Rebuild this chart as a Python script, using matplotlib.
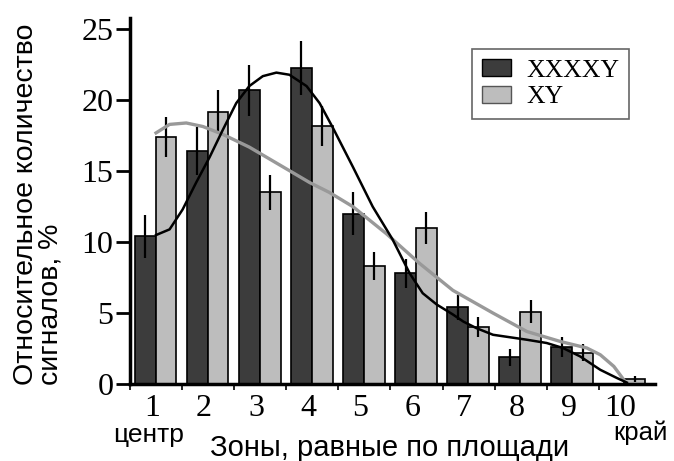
import matplotlib
matplotlib.use('Agg')
import matplotlib.pyplot as plt
import numpy as np
from matplotlib.patches import Patch

# zones 1 (centre) .. 10 (edge)
zones = np.arange(1, 11)
xxxxy = [10.4, 16.4, 20.7, 22.3, 12.0, 7.8, 5.4, 1.9, 2.6, 0.0]
xxxxy_err = [1.5, 1.7, 1.8, 1.9, 1.5, 1.0, 0.9, 0.6, 0.7, 0.0]
xy = [17.4, 19.2, 13.5, 18.2, 8.3, 11.0, 4.0, 5.1, 2.2, 0.35]
xy_err = [1.4, 1.5, 1.2, 1.4, 1.0, 1.1, 0.7, 0.8, 0.6, 0.2]

# smoothed trend lines
xxxxy_curve_x = [1.00, 1.26, 1.51, 1.77, 2.03, 2.28, 2.54, 2.79, 3.05, 3.31, 3.56,
                 3.89, 4.14, 4.39, 4.78, 5.16, 5.54, 5.87, 6.12, 6.39, 6.70, 6.90,
                 7.15, 7.47, 8.12, 8.50, 8.81, 9.14, 9.53, 9.85, 10.04]
xxxxy_curve_y = [10.5, 10.9, 12.3, 14.2, 16.0, 17.9, 19.8, 21.0, 21.7, 21.95, 21.8,
                 21.0, 19.8, 18.1, 15.3, 12.5, 10.2, 7.8, 6.4, 5.6, 4.9, 4.4,
                 3.94, 3.47, 3.12, 2.89, 2.54, 1.95, 1.0, 0.42, 0.1]
xy_curve_x = [1.00, 1.26, 1.58, 1.90, 2.28, 2.79, 3.44, 3.95, 4.33, 4.78, 5.42,
              6.06, 6.70, 7.47, 8.12, 8.76, 9.27, 9.53, 9.79, 9.98]
xy_curve_y = [17.7, 18.3, 18.4, 18.15, 17.6, 16.7, 15.3, 14.2, 13.5, 12.5, 10.6,
              8.5, 6.6, 5.0, 3.7, 3.0, 2.54, 2.06, 1.24, 0.3]

DARK = '#3c3c3c'
LIGHT = '#bdbdbd'
SERIF = 'Liberation Serif'
SANS = 'Liberation Sans'

W, H = 674, 461
fig = plt.figure(figsize=(W / 100, H / 100), dpi=100)
ax = fig.add_axes([130 / W, 1 - 384 / H, (655 - 130) / W, (384 - 18) / H])

ekw = dict(ecolor='black', elinewidth=1.6, capsize=0)
ax.bar(zones - 0.21, xxxxy, 0.4, color=DARK, edgecolor='black', linewidth=1.2,
       yerr=xxxxy_err, error_kw=ekw, zorder=2)
ax.bar(zones + 0.19, xy, 0.4, color=LIGHT, edgecolor='black', linewidth=1.2,
       yerr=xy_err, error_kw=ekw, zorder=2)

ax.plot(xy_curve_x, xy_curve_y, color='#999999', lw=2.4, zorder=4)
ax.plot(xxxxy_curve_x, xxxxy_curve_y, color='black', lw=1.8, zorder=5)

ax.set_xlim(0.5, 10.58)
ax.set_ylim(0, 25.8)

for s in ['top', 'right']:
    ax.spines[s].set_visible(False)
for s in ['left', 'bottom']:
    ax.spines[s].set_linewidth(2.5)

ax.set_yticks([0, 5, 10, 15, 20, 25])
ax.tick_params(axis='y', length=10, width=2, direction='out', pad=2)
ax.set_xticks(zones - 0.08)
ax.set_xticklabels([str(z) for z in zones])
ax.tick_params(axis='x', which='major', length=0, pad=7)
ax.set_xticks(np.arange(0.5, 10, 1.0), minor=True)
ax.tick_params(axis='x', which='minor', length=4, width=1.2, direction='out')
for lab in ax.get_xticklabels() + ax.get_yticklabels():
    lab.set_fontfamily(SERIF)
    lab.set_fontsize(23)

handles = [Patch(facecolor=DARK, edgecolor='black', label='XXXXY'),
           Patch(facecolor=LIGHT, edgecolor='#555555', label='XY')]
leg = ax.legend(handles=handles, loc='upper left', bbox_to_anchor=(472 / W, 1 - 49 / H),
                bbox_transform=fig.transFigure, prop={'family': SERIF, 'size': 18.5},
                fancybox=False, framealpha=1, edgecolor='#666666', borderaxespad=0,
                handlelength=1.1, handleheight=0.65, handletextpad=0.6,
                labelspacing=0.15, borderpad=0.4)
leg.get_frame().set_linewidth(1.2)

fig.text(13 / W, 1 - 385 / H, 'Относительное количество\nсигналов, %',
         rotation=90, ha='left', va='bottom', multialignment='left',
         family=SANS, fontsize=20.5, linespacing=0.92)
fig.text(210 / W, 1 - 456 / H, 'Зоны, равные по площади', ha='left', va='baseline',
         family=SANS, fontsize=21)
fig.text(113 / W, 1 - 442 / H, 'центр', ha='left', va='baseline',
         family=SANS, fontsize=19)
fig.text(613 / W, 1 - 440 / H, 'край', ha='left', va='baseline',
         family=SANS, fontsize=18.5)

fig.savefig('out.png', dpi=100)
